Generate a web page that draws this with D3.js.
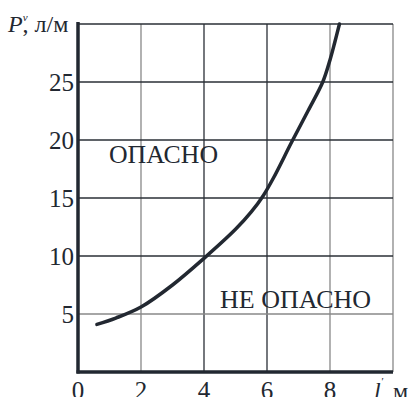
<!DOCTYPE html>
<html><head><meta charset="utf-8">
<script src="https://cdn.jsdelivr.net/npm/d3@7"></script>
<style>body{margin:0;background:#fff}svg{display:block}text{font-family:"Liberation Serif","Times New Roman",Times,"Tinos","DejaVu Serif","Noto Serif",serif}</style>
</head><body>
<svg id="c" width="413" height="397"></svg>
<script>
const xTicks = [0, 2, 4, 6, 8];
const yTicks = [5, 10, 15, 20, 25];
const xGrid = [2, 4, 6, 8, 10];
const yGrid = [5, 10, 15, 20, 25, 30];
const curveL = [0.6, 1.2, 2, 3, 4, 5, 5.5, 5.88, 6.2, 6.78, 7.3, 7.77, 8.0, 8.15, 8.3];
const curveP = [4.1, 4.65, 5.6, 7.5, 9.8, 12.3, 13.8, 15.2, 16.7, 19.8, 22.5, 25, 26.9, 28.4, 30];
const zoneLabels = ["ОПАСНО", "НЕ ОПАСНО"];

const svg = d3.select("#c");
const x = d3.scaleLinear().domain([0, 10]).range([78, 393]);
const y = d3.scaleLinear().domain([0, 30]).range([372, 24]);
const ink = "#222831";

// grid
svg.append("g").selectAll("line").data(xGrid).join("line")
  .attr("x1", d => x(d)).attr("x2", d => x(d)).attr("y1", y(0)).attr("y2", y(30))
  .attr("stroke", d => (d === 4 || d === 6) ? "#2a2f36" : "#888").attr("stroke-width", 1.3);
svg.append("g").selectAll("line").data(yGrid).join("line")
  .attr("x1", x(0)).attr("x2", x(10)).attr("y1", d => y(d)).attr("y2", d => y(d))
  .attr("stroke", d => (d === 5) ? "#888" : "#2a2f36").attr("stroke-width", 1.3);

// axes (thick)
svg.append("line").attr("x1", x(0)).attr("x2", x(0)).attr("y1", y(30) - 2).attr("y2", y(0) + 1.5)
  .attr("stroke", ink).attr("stroke-width", 3.5);
svg.append("line").attr("x1", x(0) - 1.5).attr("x2", x(10)).attr("y1", y(0)).attr("y2", y(0))
  .attr("stroke", ink).attr("stroke-width", 3.5);

// tick labels
svg.append("g").selectAll("text").data(yTicks).join("text")
  .attr("x", x(0) - 4).attr("y", d => y(d)).attr("dy", "0.34em")
  .attr("text-anchor", "end").attr("font-size", 25).attr("fill", ink)
  .text(d => d);
svg.append("g").selectAll("text").data(xTicks).join("text")
  .attr("x", d => x(d)).attr("y", 399)
  .attr("text-anchor", "middle").attr("font-size", 25).attr("fill", ink)
  .text(d => d);

// axis titles
const yt = svg.append("text").attr("x", 8).attr("y", 32).attr("font-size", 24).attr("fill", ink);
yt.append("tspan").attr("font-style", "italic").text("P");
yt.append("tspan").attr("font-size", 11).attr("dy", -11).attr("font-style", "italic").text("v");
yt.append("tspan").attr("dy", 11).attr("dx", -5).text(", л/м");

const xt = svg.append("text").attr("x", 374).attr("y", 399).attr("font-size", 24).attr("fill", ink);
xt.append("tspan").attr("font-style", "italic").text("l");
xt.append("tspan").attr("font-size", 11).attr("dy", -14).attr("font-style", "italic").text("′");
xt.append("tspan").attr("dy", 14).attr("dx", -2).text(", м");

// curve
const pts = curveL.map((l, i) => [l, curveP[i]]);
svg.append("path").datum(pts)
  .attr("d", d3.line().x(d => x(d[0])).y(d => y(d[1])).curve(d3.curveCatmullRom.alpha(0.5)))
  .attr("fill", "none").attr("stroke", ink).attr("stroke-width", 3.5).attr("stroke-linecap", "round");

// zone labels
svg.append("text").attr("x", 109).attr("y", 163).attr("font-size", 25)
  .attr("fill", ink).attr("textLength", 109).attr("lengthAdjust", "spacingAndGlyphs").text(zoneLabels[0]);
svg.append("text").attr("x", 220).attr("y", 308).attr("font-size", 25)
  .attr("fill", ink).attr("textLength", 151).attr("lengthAdjust", "spacingAndGlyphs").text(zoneLabels[1]);
</script>
</body></html>
